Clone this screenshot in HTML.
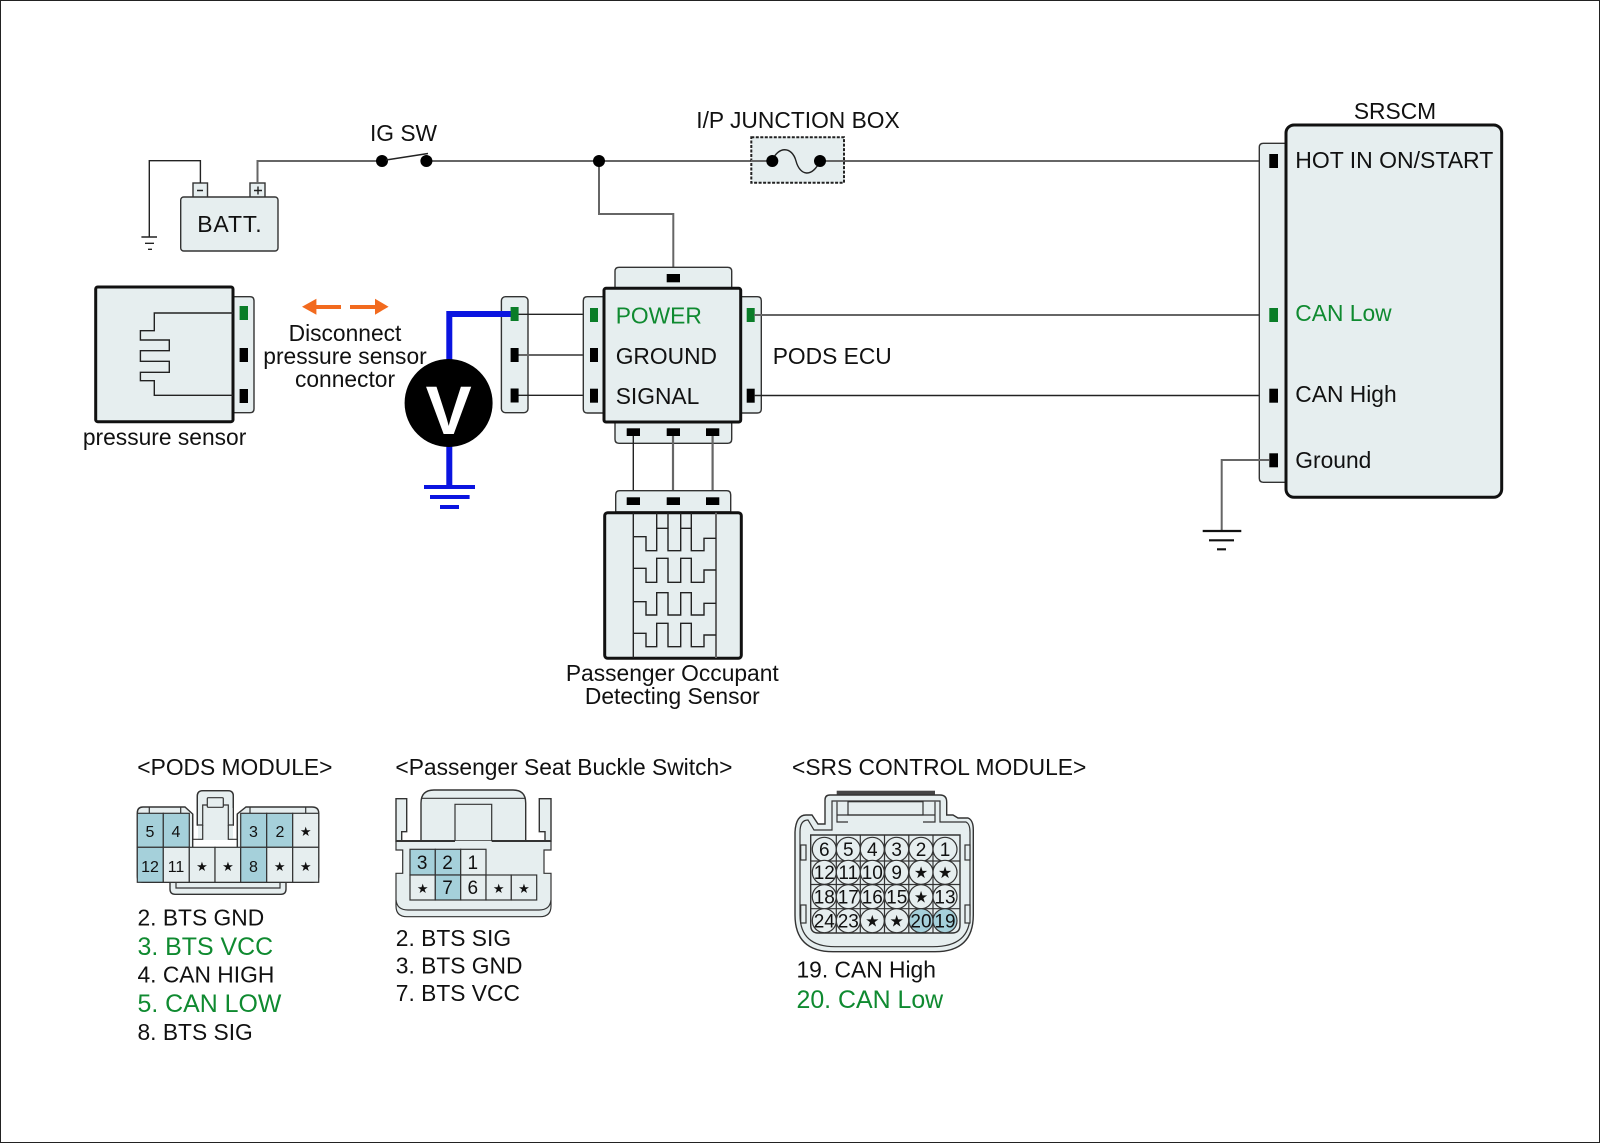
<!DOCTYPE html>
<html><head><meta charset="utf-8"><style>
html,body{margin:0;padding:0;background:#fff}
svg{display:block}
text{font-family:"Liberation Sans",sans-serif;font-size:22.8px;fill:#111}
.f{fill:#e6eeef;stroke:#333;stroke-width:1.4}
.b{fill:#e6eeef;stroke:#111;stroke-width:3}
.g{fill:none;stroke:#666;stroke-width:2}
.k{fill:none;stroke:#222;stroke-width:1.4}
.p{fill:#000}.q{fill:#0a7d28}
.gt{fill:#0f8a30}
.l{fill:none;stroke:#333;stroke-width:1.2}
.c{fill:#e6eeef;stroke:#333;stroke-width:1.2}
.t{fill:#a5d0da;stroke:#333;stroke-width:1.2}
.n1{font-size:16px;text-anchor:middle}
.n2{font-size:19px;text-anchor:middle}
.n3{font-size:19px;text-anchor:middle}
.s{font-family:"DejaVu Sans",sans-serif;text-anchor:middle;font-size:13px}
.e{font-size:24.9px}
</style></head><body>
<svg width="1600" height="1143" viewBox="0 0 1600 1143" xmlns="http://www.w3.org/2000/svg">
<rect x="0.5" y="0.5" width="1599" height="1142" fill="#fff" stroke="#222" stroke-width="1"/>

<!-- battery -->
<rect class="f" x="193" y="183" width="14.500" height="15"/>
<rect class="f" x="250" y="183" width="15" height="15"/>
<rect class="f" x="180.700" y="197" width="97.300" height="54" rx="3"/>
<path class="k" d="M200.400 183V160.700H149.300V237"/>
<path class="k" d="M141.400 237H157M145 243.300H154M148 249.300H152"/>
<path class="k" d="M197 190.500H203M254 190.500H262M258 186.500V194.500"/>
<path class="g" d="M257.500 183V161H382"/>
<text x="197.200" y="232" textLength="64.500" lengthAdjust="spacing" style="font-size:23px">BATT.</text>

<!-- switch -->
<path class="g" d="M426 161H772M820 161H1269"/>
<circle cx="382" cy="161" r="6" class="p"/><circle cx="426.400" cy="161" r="6" class="p"/>
<path class="k" d="M386 160L428 153.500"/>
<text x="403.500" y="141" text-anchor="middle">IG SW</text>
<path class="g" d="M599 161V214H673.300V274"/>
<circle cx="599" cy="161" r="6" class="p"/>

<!-- junction box -->
<rect x="751.300" y="137.300" width="92.700" height="45.400" fill="#e6eeef" stroke="#222" stroke-width="2" stroke-dasharray="3 1.500"/>
<path class="g" d="M751 161H772M820 161H844"/>
<path class="k" d="M772 161C778 146 792 146 796 161S812 178 820 161"/>
<circle cx="772.300" cy="161" r="6" class="p"/><circle cx="820" cy="161" r="6" class="p"/>
<text x="798" y="128" text-anchor="middle">I/P JUNCTION BOX</text>

<!-- pressure sensor -->
<path class="f" d="M233 296.700H250Q254 296.700 254 300.700V408.700Q254 412.700 250 412.700H233Z"/>
<rect class="b" x="95.700" y="287" width="137.300" height="134.700" rx="2"/>
<path class="k" d="M233 313H154.300V330.700H140.400V340H169.300V350.700H140.400V361.300H169.300V372.300H140.400V380.700H154.300V395.300H233"/>
<rect class="q" x="239.600" y="306" width="8.400" height="14"/>
<rect class="p" x="239.600" y="348" width="8.400" height="14"/>
<rect class="p" x="239.600" y="389" width="8.400" height="14"/>
<text x="164.600" y="445" text-anchor="middle">pressure sensor</text>

<!-- arrows -->
<path d="M302 306.700L316.400 298.700V305H341V309H316.400V314.700Z" fill="#f26a1e"/>
<path d="M388.600 306.700L375 298.700V305H350V309H375V314.700Z" fill="#f26a1e"/>
<text x="345" y="341" text-anchor="middle">Disconnect</text>
<text x="345" y="364" text-anchor="middle">pressure sensor</text>
<text x="345" y="387" text-anchor="middle">connector</text>

<!-- middle connector -->
<rect class="f" x="501.400" y="296.700" width="26.600" height="116" rx="4"/>
<path class="k" d="M514 314.300H594M514 395.300H594"/>
<path class="g" d="M514 355H594"/>
<rect class="p" x="510.600" y="348" width="8" height="14"/>
<rect class="p" x="510.600" y="388.500" width="8" height="14"/>

<!-- blue -->
<path d="M512 314H449.300V487" fill="none" stroke="#0a14e0" stroke-width="6"/>
<path d="M424 487H475M430 497H469.600M440 507H459" fill="none" stroke="#0a14e0" stroke-width="4"/>
<rect class="q" x="510.600" y="307" width="8" height="14"/>
<circle cx="448.600" cy="403" r="44" fill="#000"/>
<text x="448.600" y="434" text-anchor="middle" font-weight="bold" style="font-size:69px;fill:#fff">V</text>

<!-- PODS ECU -->
<path class="f" d="M604 296.700H587.300Q583.300 296.700 583.300 300.700V409Q583.300 413 587.300 413H604Z"/>
<path class="f" d="M740 296.700H757.300Q761.300 296.700 761.300 300.700V409Q761.300 413 757.300 413H740Z"/>
<path class="f" d="M615 288V271.300Q615 267.300 619 267.300H727.700Q731.700 267.300 731.700 271.300V288Z"/>
<path class="f" d="M615 422V439.300Q615 443.300 619 443.300H727.700Q731.700 443.300 731.700 439.300V422Z"/>
<rect class="b" x="604" y="288.300" width="136.700" height="133.700" rx="2"/>
<rect class="q" x="590" y="308" width="8" height="14"/>
<rect class="p" x="590" y="348" width="8" height="14"/>
<rect class="p" x="590" y="388.700" width="8" height="14"/>
<rect class="q" x="746.700" y="308" width="8" height="14"/>
<rect class="p" x="746.700" y="388.700" width="8" height="14"/>
<rect class="p" x="666.700" y="274" width="13.300" height="8.300"/>
<rect class="p" x="626.700" y="428.300" width="13.300" height="7.700"/>
<rect class="p" x="666.700" y="428.300" width="13.300" height="7.700"/>
<rect class="p" x="706" y="428.300" width="13.300" height="7.700"/>
<text x="615.700" y="323.500" class="gt">POWER</text>
<text x="615.700" y="364">GROUND</text>
<text x="615.700" y="404">SIGNAL</text>
<text x="772.700" y="364">PODS ECU</text>
<path class="g" d="M754 315H1269"/>
<path class="k" d="M754 395.500H1269"/>

<!-- SRSCM -->
<path class="f" d="M1286 143.300H1263.300Q1259.300 143.300 1259.300 147.300V478.300Q1259.300 482.300 1263.300 482.300H1286Z"/>
<rect class="b" x="1286" y="125" width="215.700" height="372.300" rx="8"/>
<rect class="p" x="1269.300" y="154" width="8.700" height="14"/>
<rect class="q" x="1269.300" y="308" width="8.700" height="14"/>
<rect class="p" x="1269.300" y="388.700" width="8.700" height="14"/>
<rect class="p" x="1269.300" y="453.300" width="8.700" height="14"/>
<text x="1295.300" y="168" textLength="198" lengthAdjust="spacing" style="font-size:23px">HOT IN ON/START</text>
<text x="1295.300" y="321" class="gt">CAN Low</text>
<text x="1295.300" y="402">CAN High</text>
<text x="1295.300" y="468">Ground</text>
<text x="1395" y="119" text-anchor="middle">SRSCM</text>
<path class="g" d="M1269 460H1221.700V531"/>
<path d="M1202.700 531H1241.300M1209 540.300H1234M1217 549.300H1226" fill="none" stroke="#111" stroke-width="2.200"/>

<!-- occupant sensor -->
<path class="k" d="M633.300 436V497"/>
<path class="g" d="M673 436V497M712.600 436V497" style="stroke-width:2.200"/>
<path class="f" d="M615.700 512V494.700Q615.700 490.700 619.700 490.700H726.700Q730.700 490.700 730.700 494.700V512Z"/>
<rect class="b" x="604.700" y="512.700" width="136.600" height="145.600" rx="3"/>
<rect class="p" x="626.700" y="497.300" width="13.300" height="7.700"/>
<rect class="p" x="666.700" y="497.300" width="13.300" height="7.700"/>
<rect class="p" x="706" y="497.300" width="13.300" height="7.700"/>
<path class="k" d="M633.300 512.700V658"/>
<path class="g" d="M716 512.700V658"/>
<path class="k" d="M656.700 512.700V528.300M668 512.700V528.300M680.700 512.700V528.300M691.300 512.700V528.300"/>
<path class="k" d="M633.300 536.700H646V550.700H656.700V528.300H668V550.700H680.700V528.300H691.300V550.700H704V538.300H716"/>
<path class="k" d="M633.300 568.300H646V582.300H656.700V558.300H668V582.300H680.700V558.300H691.300V582.300H704V570H716"/>
<path class="k" d="M633.300 601.700H646V615H656.700V592.700H668V615H680.700V592.700H691.300V615H704V603.300H716"/>
<path class="k" d="M633.300 633.300H646V646.700H656.700V623.300H668V646.700H680.700V623.300H691.300V646.700H704V635H716"/>
<text x="672.300" y="681" text-anchor="middle">Passenger Occupant</text>
<text x="672.300" y="704" text-anchor="middle">Detecting Sensor</text>

<!-- PODS module connector -->
<text x="137.300" y="775">&lt;PODS MODULE&gt;</text>
<path class="f" d="M170 882V889Q170 894.300 175 894.300H281Q286 894.300 286 889V882Z"/>
<path class="l" d="M176 882V888H280V882"/>
<path class="f" d="M197.300 825V796Q197.300 790.700 203 790.700H228Q233.300 790.700 233.300 796V825Z"/>
<path class="f" d="M143 807H185L192.700 814V848H237.300V814L246 807H312Q318.700 807 318.700 813V876Q318.700 882.300 312 882.300H143Q137.300 882.300 137.300 876V813Q137.300 807 143 807Z"/>
<path d="M198 808H233V840H198Z" fill="#e6eeef"/>
<path class="l" d="M197.300 825V796Q197.300 790.700 203 790.700H228Q233.300 790.700 233.300 796V825H228.300V805H223.300M207.300 805H202.700V825H197.300"/>
<path class="l" d="M192.700 814V839.300H202.700V825M237.300 814V839.300H228.300V825"/>
<rect class="c" x="207.300" y="797.700" width="16" height="9.600" rx="1"/>
<path class="l" d="M149.300 807V813M180.700 807V813M250 807V813M305.700 807V813"/>
<rect class="t" x="137.300" y="813.300" width="26" height="34"/><rect class="t" x="163.300" y="813.300" width="26" height="34"/>
<rect class="t" x="240.700" y="813.300" width="26" height="34"/><rect class="t" x="266.700" y="813.300" width="26" height="34"/>
<rect class="c" x="292.700" y="813.300" width="26" height="34"/>
<rect class="t" x="137.300" y="847.300" width="26" height="35"/><rect class="c" x="163.300" y="847.300" width="26" height="35"/>
<rect class="c" x="189.300" y="847.300" width="25.700" height="35"/><rect class="c" x="215" y="847.300" width="25.700" height="35"/>
<rect class="t" x="240.700" y="847.300" width="26" height="35"/><rect class="c" x="266.700" y="847.300" width="26" height="35"/>
<rect class="c" x="292.700" y="847.300" width="26" height="35"/>
<text class="n1" x="150" y="837">5</text><text class="n1" x="176" y="837">4</text><text class="n1" x="253.500" y="837">3</text><text class="n1" x="280" y="837">2</text>
<text class="n1" x="150" y="872">12</text><text class="n1" x="176" y="872">11</text><text class="n1" x="253.500" y="872">8</text>
<text class="s" x="305.700" y="836">★</text><text class="s" x="202" y="871">★</text><text class="s" x="228" y="871">★</text><text class="s" x="279.700" y="871">★</text><text class="s" x="305.700" y="871">★</text>
<text x="137.500" y="925.500">2. BTS GND</text>
<text x="137.500" y="955" class="gt e">3. BTS VCC</text>
<text x="137.500" y="982.500">4. CAN HIGH</text>
<text x="137.500" y="1012" class="gt e">5. CAN LOW</text>
<text x="137.500" y="1040">8. BTS SIG</text>

<!-- Buckle connector -->
<text x="395.400" y="775">&lt;Passenger Seat Buckle Switch&gt;</text>
<path class="f" d="M421 841V803Q421 790 434 790H513Q525.700 790 525.700 803V841Z"/>
<path class="l" d="M421 798.300H525.700"/>
<path class="f" d="M396 841V798.700H406.700V831.700H401.700V841Z"/>
<path class="f" d="M551 841V798.700H539.300V831.700H545V841Z"/>
<path d="M396 841H551V850H544V873.300H551V906Q551 916.700 540 916.700H407Q396 916.700 396 906V873.300H402.700V850H396Z" fill="#e6eeef"/>
<path class="l" d="M396 841V850H402.700V873.300H396V906Q396 916.700 407 916.700H540Q551 916.700 551 906V873.300H544V850H551V841"/>
<path d="M396 841H455M491.700 841H551" stroke="#333" stroke-width="2" fill="none"/>
<path class="l" d="M455 841V804.300H491.700V841"/>
<path class="l" d="M396 900Q397 910 408 910H539Q550 910 551 900"/>
<rect class="t" x="410" y="849.300" width="25.300" height="25.700"/><rect class="t" x="435.300" y="849.300" width="25.400" height="25.700"/><rect class="c" x="460.700" y="849.300" width="25.300" height="25.700"/>
<rect class="c" x="410" y="875" width="25.300" height="25"/><rect class="t" x="435.300" y="875" width="25.400" height="25"/><rect class="c" x="460.700" y="875" width="25.300" height="25"/><rect class="c" x="486" y="875" width="25.300" height="25"/><rect class="c" x="511.300" y="875" width="25.400" height="25"/>
<text class="n2" x="422.200" y="869">3</text><text class="n2" x="447.500" y="869">2</text><text class="n2" x="472.800" y="869">1</text>
<text class="n2" x="447.500" y="894">7</text><text class="n2" x="472.800" y="894">6</text>
<text class="s" x="422.700" y="893">★</text><text class="s" x="498.700" y="893">★</text><text class="s" x="524" y="893">★</text>
<text x="395.800" y="946">2. BTS SIG</text>
<text x="395.800" y="973.500">3. BTS GND</text>
<text x="395.800" y="1001">7. BTS VCC</text>

<!-- SRS connector -->
<text x="792" y="775">&lt;SRS CONTROL MODULE&gt;</text>
<rect x="836.700" y="790.700" width="98.300" height="5.500" fill="#444"/>
<path class="f" d="M795 832Q796 815 806 815H812L818 824H825V800Q825 795 830 795H940Q946.700 795 946.700 802V815H953L958 818H968Q973.300 820 973.300 830V915Q973.300 951.700 935 951.700H833Q795 951.700 795 915Z"/>
<path class="l" d="M800 832Q800 820 808 820L814 830H832V801H940V822H966Q970 824 970 832V915Q970 946.700 933 946.700H835Q800 946.700 800 915Z"/>
<rect class="c" x="848" y="801.700" width="75" height="13.300"/>
<path class="l" d="M837 801.700V822H848M935 801.700V822H923M837 815H935"/>
<rect class="c" x="800.700" y="845" width="5.300" height="15"/><rect class="c" x="800.700" y="905" width="5.300" height="18"/>
<rect class="c" x="965" y="845" width="5" height="15"/><rect class="c" x="965" y="905" width="5" height="18"/>
<path class="f" d="M810.700 835H960V925Q960 933 952 933H818Q810.700 933 810.700 925Z"/>
<path class="l" d="M836.300 835V933M860.300 835V933M884.500 835V933M908.800 835V933M933 835V933M810.700 861H960M810.700 884.500H960M810.700 908.700H960"/>
<g stroke="#333" stroke-width="1.200" fill="#e6eeef">
<circle cx="824.300" cy="849.300" r="12"/><circle cx="848.300" cy="849.300" r="12"/><circle cx="872.300" cy="849.300" r="12"/><circle cx="896.700" cy="849.300" r="12"/><circle cx="921" cy="849.300" r="12"/><circle cx="945" cy="849.300" r="12"/>
<circle cx="824.300" cy="872.300" r="12"/><circle cx="848.300" cy="872.300" r="12"/><circle cx="872.300" cy="872.300" r="12"/><circle cx="896.700" cy="872.300" r="12"/><circle cx="921" cy="872.300" r="12"/><circle cx="945" cy="872.300" r="12"/>
<circle cx="824.300" cy="896.700" r="12"/><circle cx="848.300" cy="896.700" r="12"/><circle cx="872.300" cy="896.700" r="12"/><circle cx="896.700" cy="896.700" r="12"/><circle cx="921" cy="896.700" r="12"/><circle cx="945" cy="896.700" r="12"/>
<circle cx="824.300" cy="920.700" r="12"/><circle cx="848.300" cy="920.700" r="12"/><circle cx="872.300" cy="920.700" r="12"/><circle cx="896.700" cy="920.700" r="12"/>
<circle cx="921" cy="920.700" r="12" fill="#a5d0da"/><circle cx="945" cy="920.700" r="12" fill="#a5d0da"/>
</g>
<text class="n3" x="824.300" y="856">6</text><text class="n3" x="848.300" y="856">5</text><text class="n3" x="872.300" y="856">4</text><text class="n3" x="896.700" y="856">3</text><text class="n3" x="921" y="856">2</text><text class="n3" x="945" y="856">1</text>
<text class="n3" x="824.300" y="879">12</text><text class="n3" x="848.300" y="879">11</text><text class="n3" x="872.300" y="879">10</text><text class="n3" x="896.700" y="879">9</text>
<text class="n3" x="824.300" y="903.500">18</text><text class="n3" x="848.300" y="903.500">17</text><text class="n3" x="872.300" y="903.500">16</text><text class="n3" x="896.700" y="903.500">15</text><text class="n3" x="945" y="903.500">13</text>
<text class="n3" x="824.300" y="927.500">24</text><text class="n3" x="848.300" y="927.500">23</text><text class="n3" x="921" y="927.500">20</text><text class="n3" x="945" y="927.500">19</text>
<text class="s" x="921" y="878" style="font-size:16px">★</text><text class="s" x="945" y="878" style="font-size:16px">★</text><text class="s" x="921" y="902.500" style="font-size:16px">★</text><text class="s" x="872.300" y="926.500" style="font-size:16px">★</text><text class="s" x="896.700" y="926.500" style="font-size:16px">★</text>
<text x="796.500" y="977.500">19. CAN High</text>
<text x="796.500" y="1008" class="gt e">20. CAN Low</text>
</svg>
</body></html>
